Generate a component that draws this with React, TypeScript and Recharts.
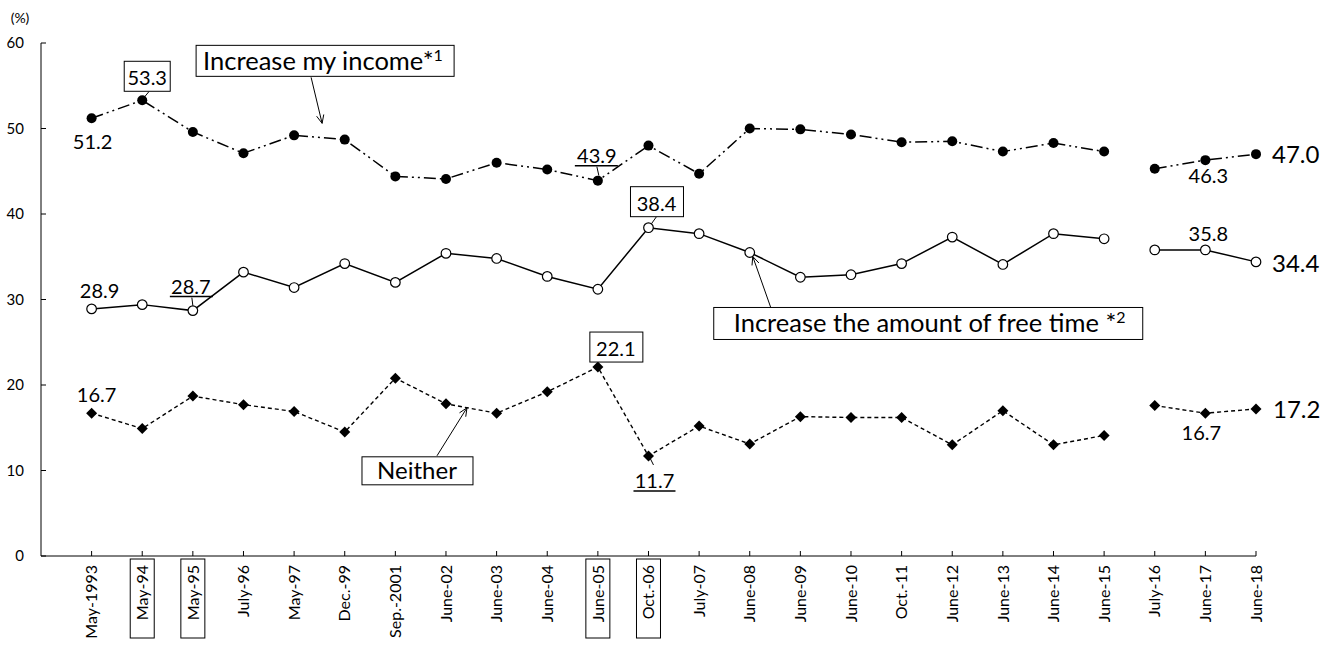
import React from 'react';
import { LineChart, Line, XAxis, YAxis, LabelList } from 'recharts';

const categories = ['May-1993', 'May-94', 'May-95', 'July-96', 'May-97', 'Dec.-99', 'Sep.-2001', 'June-02', 'June-03', 'June-04', 'June-05', 'Oct.-06', 'July-07', 'June-08', 'June-09', 'June-10', 'Oct.-11', 'June-12', 'June-13', 'June-14', 'June-15', 'July-16', 'June-17', 'June-18'];
const boxedCategories = ['May-94', 'May-95', 'June-05', 'Oct.-06'];
const incomeValues = [51.2, 53.3, 49.6, 47.1, 49.2, 48.7, 44.4, 44.1, 46.0, 45.2, 43.9, 48.0, 44.7, 50.0, 49.9, 49.3, 48.4, 48.5, 47.3, 48.3, 47.3, 45.3, 46.3, 47.0];
const freeTimeValues = [28.9, 29.4, 28.7, 33.2, 31.4, 34.2, 32.0, 35.4, 34.8, 32.7, 31.2, 38.4, 37.7, 35.5, 32.6, 32.9, 34.2, 37.3, 34.1, 37.7, 37.1, 35.8, 35.8, 34.4];
const neitherValues = [16.7, 14.9, 18.7, 17.7, 16.9, 14.5, 20.8, 17.8, 16.7, 19.2, 22.1, 11.7, 15.2, 13.1, 16.3, 16.2, 16.2, 13.0, 17.0, 13.0, 14.1, 17.6, 16.7, 17.2];
const yTicks = [0, 10, 20, 30, 40, 50, 60];
const breakIndex = 21; // line break between June-15 and July-16

const data = categories.map((label, i) => ({
  label,
  incomeA: i < breakIndex ? incomeValues[i] : null,
  incomeB: i >= breakIndex ? incomeValues[i] : null,
  freeA: i < breakIndex ? freeTimeValues[i] : null,
  freeB: i >= breakIndex ? freeTimeValues[i] : null,
  neitherA: i < breakIndex ? neitherValues[i] : null,
  neitherB: i >= breakIndex ? neitherValues[i] : null,
}));

const FONT = 'Lato, "Open Sans", sans-serif';

function T({ x, y, s, size = 20, anchor = 'middle', children }: any) {
  return (
    <text x={x} y={y} fontFamily={FONT} fontSize={size} fill="#000" textAnchor={anchor}>
      {s}
      {children}
    </text>
  );
}

function Arrow({ x1, y1, x2, y2 }: any) {
  const ang = Math.atan2(y2 - y1, x2 - x1);
  const L = 9;
  const a = 0.42;
  const p1 = [x2 - L * Math.cos(ang - a), y2 - L * Math.sin(ang - a)];
  const p2 = [x2 - L * Math.cos(ang + a), y2 - L * Math.sin(ang + a)];
  return (
    <g stroke="#000" strokeWidth={1} fill="none">
      <line x1={x1} y1={y1} x2={x2} y2={y2} />
      <polyline points={`${p1[0]},${p1[1]} ${x2},${y2} ${p2[0]},${p2[1]}`} />
    </g>
  );
}

function Box({ x, y, w, h }: any) {
  return <rect x={x} y={y} width={w} height={h} fill="#fff" stroke="#000" strokeWidth={1} />;
}

function getPt(props: any) {
  const vb = props.viewBox || {};
  const x = vb.x ?? props.x;
  const y = vb.y ?? props.y;
  return { x, y };
}

const incomeLabel = (props: any) => {
  const { x, y } = getPt(props);
  const i = props.index;
  if (x == null || y == null || Number.isNaN(y)) return null;
  if (i === 0) return <T x={x + 1} y={y + 31} s={String(incomeValues[0].toFixed(1))} />;
  if (i === 1)
    return (
      <g>
        <line x1={x + 7} y1={y - 9} x2={x + 2} y2={y - 3} stroke="#000" />
        <Box x={x - 18} y={y - 39} w={46} h={30} />
        <T x={x + 5} y={y - 15} s={incomeValues[1].toFixed(1)} />
      </g>
    );
  if (i === 4)
    return (
      <g>
        <Box x={x - 98} y={y - 90} w={258} h={31} />
        <T x={x - 91} y={y - 65} size={25.5} anchor="start" s="Increase my income*">
          <tspan fontSize={16} dy={-9}>1</tspan>
        </T>
        <Arrow x1={x + 17} y1={y - 58} x2={x + 28} y2={y - 12} />
      </g>
    );
  if (i === 10)
    return (
      <g>
        <T x={x - 1} y={y - 18} s={incomeValues[10].toFixed(1)} />
        <line x1={x - 23} y1={y - 15} x2={x + 20} y2={y - 15} stroke="#000" strokeWidth={1.5} />
        <line x1={x - 1} y1={y - 14} x2={x + 1} y2={y - 5} stroke="#000" />
      </g>
    );
  return null;
};

const incomeLabelB = (props: any) => {
  const { x, y } = getPt(props);
  const i = props.index;
  if (x == null || y == null || Number.isNaN(y)) return null;
  if (i === 22) return <T x={x + 3} y={y + 23} s={incomeValues[22].toFixed(1)} />;
  if (i === 23) return <T x={x + 16} y={y + 9} size={24} anchor="start" s={incomeValues[23].toFixed(1)} />;
  return null;
};

const freeLabel = (props: any) => {
  const { x, y } = getPt(props);
  const i = props.index;
  if (x == null || y == null || Number.isNaN(y)) return null;
  if (i === 0) return <T x={x + 8} y={y - 11} s={freeTimeValues[0].toFixed(1)} />;
  if (i === 2)
    return (
      <g>
        <T x={x - 2} y={y - 17} s={freeTimeValues[2].toFixed(1)} />
        <line x1={x - 23} y1={y - 14} x2={x + 20} y2={y - 14} stroke="#000" strokeWidth={1.5} />
        <line x1={x - 1} y1={y - 13} x2={x} y2={y - 5} stroke="#000" />
      </g>
    );
  if (i === 11)
    return (
      <g>
        <line x1={x + 8} y1={y - 11} x2={x + 3} y2={y - 4} stroke="#000" />
        <Box x={x - 18} y={y - 41} w={53} h={30} />
        <T x={x + 8} y={y - 17} s={freeTimeValues[11].toFixed(1)} />
      </g>
    );
  if (i === 13)
    return (
      <g>
        <Arrow x1={x + 21} y1={y + 55} x2={x + 3} y2={y + 4} />
        <Box x={x - 36} y={y + 55} w={429} h={32} />
        <T x={x - 16} y={y + 80} size={25.5} anchor="start" s="Increase the amount of free time *">
          <tspan fontSize={16} dy={-9}>2</tspan>
        </T>
      </g>
    );
  return null;
};

const freeLabelB = (props: any) => {
  const { x, y } = getPt(props);
  const i = props.index;
  if (x == null || y == null || Number.isNaN(y)) return null;
  if (i === 22) return <T x={x + 3} y={y - 9} s={freeTimeValues[22].toFixed(1)} />;
  if (i === 23) return <T x={x + 16} y={y + 10} size={24} anchor="start" s={freeTimeValues[23].toFixed(1)} />;
  return null;
};

const neitherLabel = (props: any) => {
  const { x, y } = getPt(props);
  const i = props.index;
  if (x == null || y == null || Number.isNaN(y)) return null;
  if (i === 0) return <T x={x + 5} y={y - 11} s={neitherValues[0].toFixed(1)} />;
  if (i === 7)
    return (
      <g>
        <Arrow x1={x - 9} y1={y + 52} x2={x + 21} y2={y + 4} />
        <Box x={x - 84} y={y + 53} w={111} h={28} />
        <T x={x - 29} y={y + 75} size={24} s="Neither" />
      </g>
    );
  if (i === 10)
    return (
      <g>
        <Box x={x - 8} y={y - 35} w={53} h={30} />
        <T x={x + 18} y={y - 11} s={neitherValues[10].toFixed(1)} />
      </g>
    );
  if (i === 11)
    return (
      <g>
        <line x1={x + 1} y1={y + 1} x2={x + 5} y2={y + 9} stroke="#000" />
        <T x={x + 6} y={y + 32} s={neitherValues[11].toFixed(1)} />
        <line x1={x - 15} y1={y + 35} x2={x + 27} y2={y + 35} stroke="#000" strokeWidth={1.5} />
      </g>
    );
  return null;
};

const neitherLabelB = (props: any) => {
  const { x, y } = getPt(props);
  const i = props.index;
  if (x == null || y == null || Number.isNaN(y)) return null;
  if (i === 22) return <T x={x - 4} y={y + 27} s={neitherValues[22].toFixed(1)} />;
  if (i === 23) return <T x={x + 17} y={y + 9} size={24} anchor="start" s={neitherValues[23].toFixed(1)} />;
  return null;
};

const filledDot = (props: any) => {
  const { cx, cy, index } = props;
  if (cx == null || cy == null) return <g key={`fd-${index}`} />;
  return <circle key={`fd-${index}`} cx={cx} cy={cy} r={5} fill="#000" stroke="none" />;
};
const openDot = (props: any) => {
  const { cx, cy, index } = props;
  if (cx == null || cy == null) return <g key={`od-${index}`} />;
  return <circle key={`od-${index}`} cx={cx} cy={cy} r={4.8} fill="#fff" stroke="#000" strokeWidth={1.2} />;
};
const diamondDot = (props: any) => {
  const { cx, cy, index } = props;
  if (cx == null || cy == null) return <g key={`dd-${index}`} />;
  const s = 5.5;
  return (
    <path
      key={`dd-${index}`}
      d={`M${cx},${cy - s} L${cx + s},${cy} L${cx},${cy + s} L${cx - s},${cy} Z`}
      fill="#000"
      stroke="none"
    />
  );
};

const XTick = (props: any) => {
  const { x, y, payload } = props;
  const v = payload.value;
  const boxed = boxedCategories.includes(v);
  return (
    <g>
      <line x1={x} y1={y} x2={x} y2={y - 5} stroke="#000" strokeWidth={1} />
      {boxed && <rect x={x - 12} y={y + 3} width={24} height={79} fill="none" stroke="#000" strokeWidth={1} />}
      <text
        x={x}
        y={y + 9}
        transform={`rotate(-90, ${x}, ${y + 9})`}
        textAnchor="end"
        dy="0.36em"
        fontFamily={FONT}
        fontSize={16}
        fill="#000"
      >
        {v}
      </text>
    </g>
  );
};

const YTick = (props: any) => {
  const { x, y, payload } = props;
  return (
    <g>
      <line x1={x} y1={y} x2={x + 5} y2={y} stroke="#000" strokeWidth={1} />
      <text x={24} y={y} dy="0.36em" textAnchor="end" fontFamily={FONT} fontSize={15} fill="#000">
        {payload.value}
      </text>
    </g>
  );
};

const yUnit = (props: any) => {
  const vb = props.viewBox || {};
  return (
    <text x={20} y={(vb.y ?? 43) - 20} textAnchor="middle" fontFamily={FONT} fontSize={14} fill="#000">
      (%)
    </text>
  );
};

export default function App() {
  return (
    <div style={{ position: 'absolute', left: 0, top: 0, width: 1333, height: 646, background: '#fff' }}>
      <LineChart width={1333} height={646} data={data} margin={{ top: 43, right: 77, bottom: 0, left: 0 }}>
        <XAxis
          dataKey="label"
          type="category"
          interval={0}
          height={90}
          tickSize={0}
          tickMargin={0}
          tickLine={false}
          padding={{ left: 50.6, right: 0 }}
          axisLine={{ stroke: '#000', strokeWidth: 1 }}
          tick={<XTick />}
        />
        <YAxis
          type="number"
          domain={[0, 60]}
          ticks={yTicks}
          width={41}
          tickSize={0}
          tickMargin={0}
          tickLine={false}
          axisLine={{ stroke: '#000', strokeWidth: 1 }}
          tick={<YTick />}
          label={yUnit}
          interval={0}
        />
        <Line dataKey="neitherA" stroke="#000" strokeWidth={1.4} strokeDasharray="4 3" dot={diamondDot} activeDot={false} isAnimationActive={false}>
          <LabelList content={neitherLabel} />
        </Line>
        <Line dataKey="neitherB" stroke="#000" strokeWidth={1.4} strokeDasharray="4 3" dot={diamondDot} activeDot={false} isAnimationActive={false}>
          <LabelList content={neitherLabelB} />
        </Line>
        <Line dataKey="freeA" stroke="#000" strokeWidth={1.5} dot={openDot} activeDot={false} isAnimationActive={false}>
          <LabelList content={freeLabel} />
        </Line>
        <Line dataKey="freeB" stroke="#000" strokeWidth={1.5} dot={openDot} activeDot={false} isAnimationActive={false}>
          <LabelList content={freeLabelB} />
        </Line>
        <Line dataKey="incomeA" stroke="#000" strokeWidth={1.5} strokeDasharray="12 4 2 4 2 4" dot={filledDot} activeDot={false} isAnimationActive={false}>
          <LabelList content={incomeLabel} />
        </Line>
        <Line dataKey="incomeB" stroke="#000" strokeWidth={1.5} strokeDasharray="12 4 2 4 2 4" dot={filledDot} activeDot={false} isAnimationActive={false}>
          <LabelList content={incomeLabelB} />
        </Line>
      </LineChart>
    </div>
  );
}
